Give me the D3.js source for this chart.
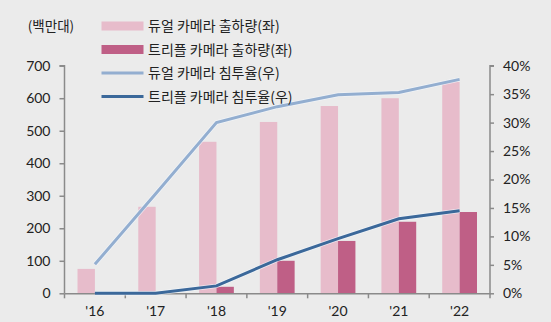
<!DOCTYPE html>
<html><head><meta charset="utf-8">
<script src="https://cdn.jsdelivr.net/npm/d3@7"></script>
<style>
html,body{margin:0;padding:0;background:#ebebeb;}
svg{display:block;}
text{font-family:"Noto Sans CJK KR","Noto Sans",sans-serif;fill:#222;}
.tick text{font-family:"Lato","Noto Sans",sans-serif;}
</style></head>
<body>
<script>
const categories = ["'16","'17","'18","'19","'20","'21","'22"];
const dualShip = [75, 266, 466, 527, 576, 600, 651];
const tripleShip = [0, 0, 20, 100, 161, 220, 250];
const dualRate = [5.1, 17.5, 30.0, 32.8, 34.9, 35.3, 37.6];
const tripleRate = [0, 0, 1.3, 5.9, 9.6, 13.1, 14.5];
const leftTicks = [0,100,200,300,400,500,600,700];
const rightTicks = [0,5,10,15,20,25,30,35,40];
const legendLabels = ["듀얼 카메라 출하량(좌)","트리플 카메라 출하량(좌)","듀얼 카메라 침투율(우)","트리플 카메라 침투율(우)"];
const unitLabel = "(백만대)";

const colors = {dualBar:"#e7bccb", tripleBar:"#bf5f86", dualLine:"#93aed0", tripleLine:"#3b689a", axis:"#8a8a8a"};

const W=551,H=322;
const m={left:64.5,right:61,top:65.7,bottom:28.7};
const svg=d3.select("body").append("svg").attr("width",W).attr("height",H);
svg.append("rect").attr("width",W).attr("height",H).attr("fill","#ebebeb");

const x=d3.scaleBand().domain(categories).range([m.left,W-m.right]).paddingInner(0).paddingOuter(0);
const yL=d3.scaleLinear().domain([0,700]).range([H-m.bottom,m.top]);
const yR=d3.scaleLinear().domain([0,40]).range([H-m.bottom,m.top]);

const bw=x.bandwidth()*0.286;
const g=svg.append("g");
// dual bars
g.selectAll(".db").data(categories).join("rect")
 .attr("x",d=>x(d)+x.bandwidth()/2-bw).attr("width",bw)
 .attr("y",(d,i)=>yL(dualShip[i])).attr("height",(d,i)=>yL(0)-yL(dualShip[i]))
 .attr("fill",colors.dualBar);
g.selectAll(".tb").data(categories).join("rect")
 .attr("x",d=>x(d)+x.bandwidth()/2).attr("width",bw)
 .attr("y",(d,i)=>yL(tripleShip[i])).attr("height",(d,i)=>yL(0)-yL(tripleShip[i]))
 .attr("fill",colors.tripleBar);

// axes
const axL=svg.append("g").attr("transform",`translate(${m.left},0)`)
 .call(d3.axisLeft(yL).tickValues(leftTicks).tickSize(5).tickPadding(9));
const axR=svg.append("g").attr("transform",`translate(${W-m.right},0)`)
 .call(d3.axisRight(yR).tickValues(rightTicks).tickFormat(d=>d+"%").tickSize(4).tickPadding(9));
const axB=svg.append("g").attr("transform",`translate(0,${H-m.bottom})`)
 .call(d3.axisBottom(x).tickSize(0).tickPadding(13));
// boundary ticks on x axis
const bounds=categories.map(c=>x(c)).concat([W-m.right]);
svg.append("g").selectAll("line").data(bounds).join("line")
 .attr("x1",d=>d).attr("x2",d=>d).attr("y1",H-m.bottom).attr("y2",H-m.bottom+5)
 .attr("stroke",colors.axis).attr("stroke-width",1.5);
[axL,axR,axB].forEach(a=>{
 a.selectAll("path,line").attr("stroke",colors.axis).attr("stroke-width",1.5);
 a.selectAll("text").attr("font-size",14).attr("fill","#222");
});
axL.select(".domain").attr("d",`M-5,${yL(700)}H0V${yL(0)}`);
axR.select(".domain").attr("d",`M4,${yR(40)}H0V${yR(0)}`);

// lines
const cx=d=>x(d)+x.bandwidth()/2;
const line=(arr)=>d3.line().x((d,i)=>cx(categories[i])).y(d=>yR(d))(arr);
[[dualRate,colors.dualLine],[tripleRate,colors.tripleLine]].forEach(([arr,c])=>{
 svg.append("path").attr("d",line(arr)).attr("fill","none").attr("stroke","#f4f8fc").attr("stroke-width",4.5).attr("opacity",0.7);
 svg.append("path").attr("d",line(arr)).attr("fill","none").attr("stroke",c).attr("stroke-width",3);
});

// unit label
svg.append("text").attr("x",51).attr("y",31).attr("text-anchor","middle").attr("font-size",13.5).text(unitLabel);

// legend
const lg=svg.append("g");
const rows=[26,49.5,73,96.5];
legendLabels.forEach((t,i)=>{
 const y=rows[i];
 if(i<2){
  lg.append("rect").attr("x",101.5).attr("y",y-4.5).attr("width",42).attr("height",9)
   .attr("fill",i==0?colors.dualBar:colors.tripleBar);
 } else {
  lg.append("line").attr("x1",101.5).attr("x2",143.5).attr("y1",y).attr("y2",y)
   .attr("stroke",i==2?colors.dualLine:colors.tripleLine).attr("stroke-width",3);
 }
 lg.append("text").attr("x",148).attr("y",y+5).attr("font-size",14).text(t);
});
</script>
</body></html>
